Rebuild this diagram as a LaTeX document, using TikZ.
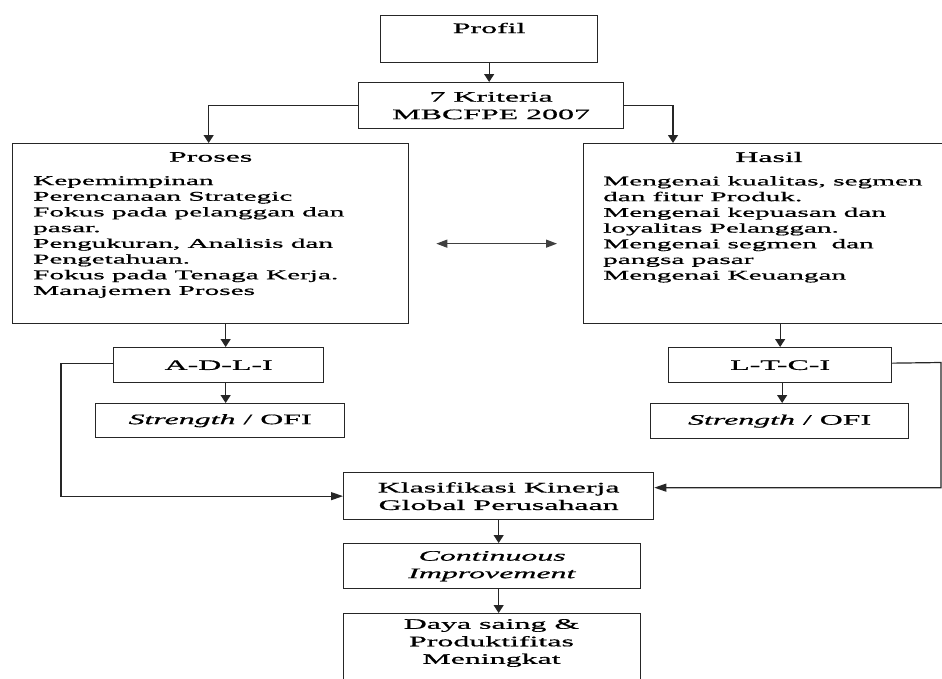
\documentclass[tikz,border=0pt]{standalone}
\usepackage{fontspec}
\setmainfont[FakeStretch=2.2,FakeBold=0.8]{Liberation Serif}
\usetikzlibrary{arrows.meta,calc}
\begin{document}
\begin{tikzpicture}[x=1pt,y=-1pt,
  box/.style={draw=black!85,line width=1.3pt,inner sep=0pt,anchor=north west,align=center,
    font=\fontsize{14.5}{17.5}\selectfont},
  txt/.style={inner sep=0pt,align=center,font=\fontsize{14.5}{17.5}\selectfont},
  lst/.style={inner sep=0pt,align=left,anchor=north west,font=\fontsize{13.3}{15.7}\selectfont},
  arr/.style={draw=black!85,line width=1.2pt,-{Triangle[length=8pt,width=10pt]}},
  darr/.style={draw=black!75,line width=1.2pt,{Triangle[length=11pt,width=8pt]}-{Triangle[length=11pt,width=8pt]}},
  harr/.style={draw=black!85,line width=1.2pt,-{Triangle[length=12pt,width=8pt]}}]
\useasboundingbox (0,0) rectangle (942,678);
% boxes
\node[box,minimum width=217pt,minimum height=47pt] (profil) at (380,15) {};
\node[txt] (profilT) at ($(profil.north)+(0,13)$) {Profil};
\node[box,minimum width=265pt,minimum height=46pt] (krit) at (358,82) {7 Kriteria\\MBCFPE 2007};
\node[box,minimum width=396pt,minimum height=180pt] (proses) at (12,143) {};
\node[txt] (prosesT) at ($(proses.north)+(0,14)$) {Proses};
\node[lst] (prosesL) at (33,176) {Kepemimpinan\\Perencanaan Strategic\\Fokus pada pelanggan dan\\pasar.\\Pengukuran, Analisis dan\\Pengetahuan.\\Fokus pada Tenaga Kerja.\\Manajemen Proses};
\node[box,minimum width=380pt,minimum height=180pt] (hasil) at (583,143) {};
\node[txt] (hasilT) at (769,157) {Hasil};
\node[lst] (hasilL) at (603,176) {Mengenai kualitas, segmen\\dan fitur Produk.\\Mengenai kepuasan dan\\loyalitas Pelanggan.\\Mengenai segmen\ \ dan\\pangsa pasar\\Mengenai Keuangan};
\node[box,minimum width=210pt,minimum height=35pt] (adli) at (113,347) {A-D-L-I};
\node[box,minimum width=249pt,minimum height=34pt] (strL) at (95,403) {\textit{Strength} / OFI};
\node[box,minimum width=223pt,minimum height=35pt] (ltci) at (668,347) {L-T-C-I};
\node[box,minimum width=258pt,minimum height=35pt] (strR) at (650,403) {\textit{Strength} / OFI};
\node[box,minimum width=310pt,minimum height=47pt] (klas) at (343,472) {Klasifikasi Kinerja\\Global Perusahaan};
\node[box,minimum width=297pt,minimum height=45pt] (cont) at (343,543) {\textit{Continuous}\\\textit{Improvement}};
\node[box,minimum width=297pt,minimum height=90pt] (daya) at (343,613) {};
\node[txt] (dayaT) at (491.5,643) {Daya saing \&\\Produktifitas\\Meningkat};
% connectors
\draw[arr] (profil.south) -- (profil.south |- krit.north);
\draw[arr] (krit.west) -| ([xshift=-2pt]proses.north);
\draw[arr] (krit.east) -| ([xshift=90pt]hasil.north west);
\coordinate (dl) at ($(proses.east)+(27,10)$);
\coordinate (dr) at ($(hasil.west)+(-26,10)$);
\draw[darr] (dl) -- (dr);
\draw[arr] ([xshift=7pt]adli.north |- proses.south) -- ([xshift=7pt]adli.north);
\draw[arr] ([xshift=7pt]adli.south) -- ([xshift=7pt]adli.south |- strL.north);
\draw[arr] (ltci.north |- hasil.south) -- (ltci.north);
\draw[arr] ([xshift=2pt]ltci.south) -- ([xshift=2pt]ltci.south |- strR.north);
\draw[harr] ([yshift=2pt]adli.west) -- ++(-52,0) |- (klas.west);
\draw[harr] ([yshift=2pt]ltci.east) -- (941,362.5) |- ([yshift=8.5pt]klas.east);
\draw[arr] (klas.south) -- (klas.south |- cont.north);
\draw[arr] ([xshift=6.5pt]cont.south) -- ([xshift=6.5pt]cont.south |- daya.north);
\end{tikzpicture}
\end{document}
